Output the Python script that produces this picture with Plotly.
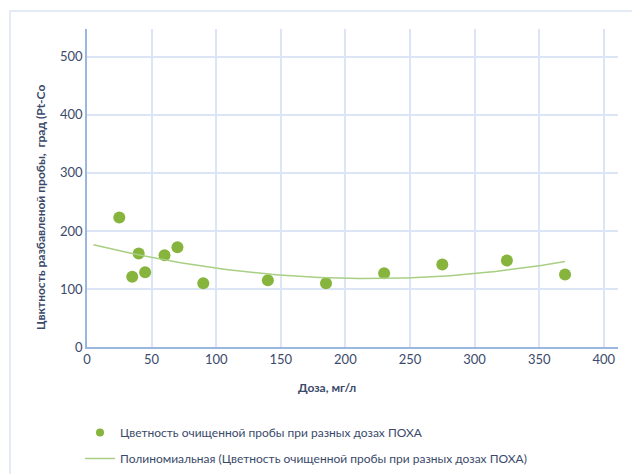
import numpy as np
import plotly.graph_objects as go

dose = [25, 35, 40, 45, 60, 70, 90, 140, 185, 230, 275, 325, 370]
color = [223, 121, 161, 129, 158, 172, 110, 115, 110, 127, 142, 149, 125]
x_ticks = [0, 50, 100, 150, 200, 250, 300, 350, 400]
y_ticks = [0, 100, 200, 300, 400, 500]

series_name = "Цветность очищенной пробы при разных дозах ПОХА"
trend_name = "Полиномиальная (Цветность очищенной пробы при разных дозах ПОХА)"

coef = np.polyfit(dose, color, 2)
xt = np.linspace(5, 370, 120)
yt = np.polyval(coef, xt)

W, H = 632, 474
L, R, T, B = 87, 14, 29, 127
pw, ph = W - L - R, H - T - B

text_col = "#3b4a6b"
font = "Lato"
green = "#86b43c"

fig = go.Figure()
fig.add_trace(go.Scatter(
    x=dose, y=color, mode="markers", name=series_name, showlegend=False,
    marker=dict(size=12, color=green, line=dict(width=0)),
))
fig.add_trace(go.Scatter(
    x=[None], y=[None], mode="markers", name=series_name, legendgroup="a",
    marker=dict(size=8, color=green, line=dict(width=0)),
))
fig.add_trace(go.Scatter(
    x=xt, y=yt, mode="lines", name=trend_name, legendgroup="b",
    line=dict(color="#a8cf84", width=1.5),
))

def px_x(p):
    return (p - L) / pw

def px_y(p):
    return (H - B - p) / ph

fig.update_layout(
    width=W, height=H,
    margin=dict(l=L, r=R, t=T, b=B, autoexpand=False),
    paper_bgcolor="white", plot_bgcolor="white",
    font=dict(family=font, color=text_col, size=12),
    xaxis=dict(range=[0, 411], tickvals=x_ticks, showgrid=True,
               gridcolor="#dbe5f5", gridwidth=1.5, zeroline=False,
               showline=True, linecolor="#9bb7e0", linewidth=1.5,
               ticks="", tickfont=dict(size=13, color=text_col)),
    yaxis=dict(range=[0, 548], tickvals=y_ticks, showgrid=True,
               gridcolor="#dbe5f5", gridwidth=1.5, zeroline=False,
               showline=True, linecolor="#9bb7e0", linewidth=1.5,
               ticks="", tickfont=dict(size=13, color=text_col)),
    showlegend=True,
    legend=dict(x=px_x(80), y=px_y(418), xanchor="left", yanchor="top",
                font=dict(size=12, color=text_col), traceorder="grouped",
                tracegroupgap=7, bgcolor="rgba(0,0,0,0)"),
    annotations=[
        dict(text="<b>Доза, мг/л</b>", xref="paper", yref="paper",
             x=px_x(327), y=px_y(387), xanchor="center", yanchor="middle",
             showarrow=False, font=dict(size=12, color=text_col)),
        dict(text="<b>Цвктность разбавленой пробы,  град (Pt-Co</b>",
             xref="paper", yref="paper", textangle=-90,
             x=px_x(40), y=px_y(208), xanchor="center", yanchor="middle",
             showarrow=False, font=dict(size=12, color=text_col)),
    ],
    shapes=[
        dict(type="rect", xref="paper", yref="paper",
             x0=px_x(10), x1=px_x(640), y0=px_y(480), y1=px_y(11),
             line=dict(color="#dbe5f5", width=1.5), layer="below"),
    ],
)

fig.write_html("out.html", config={"displayModeBar": False},
               post_script="document.body.style.margin='0';document.body.style.overflow='hidden';")
